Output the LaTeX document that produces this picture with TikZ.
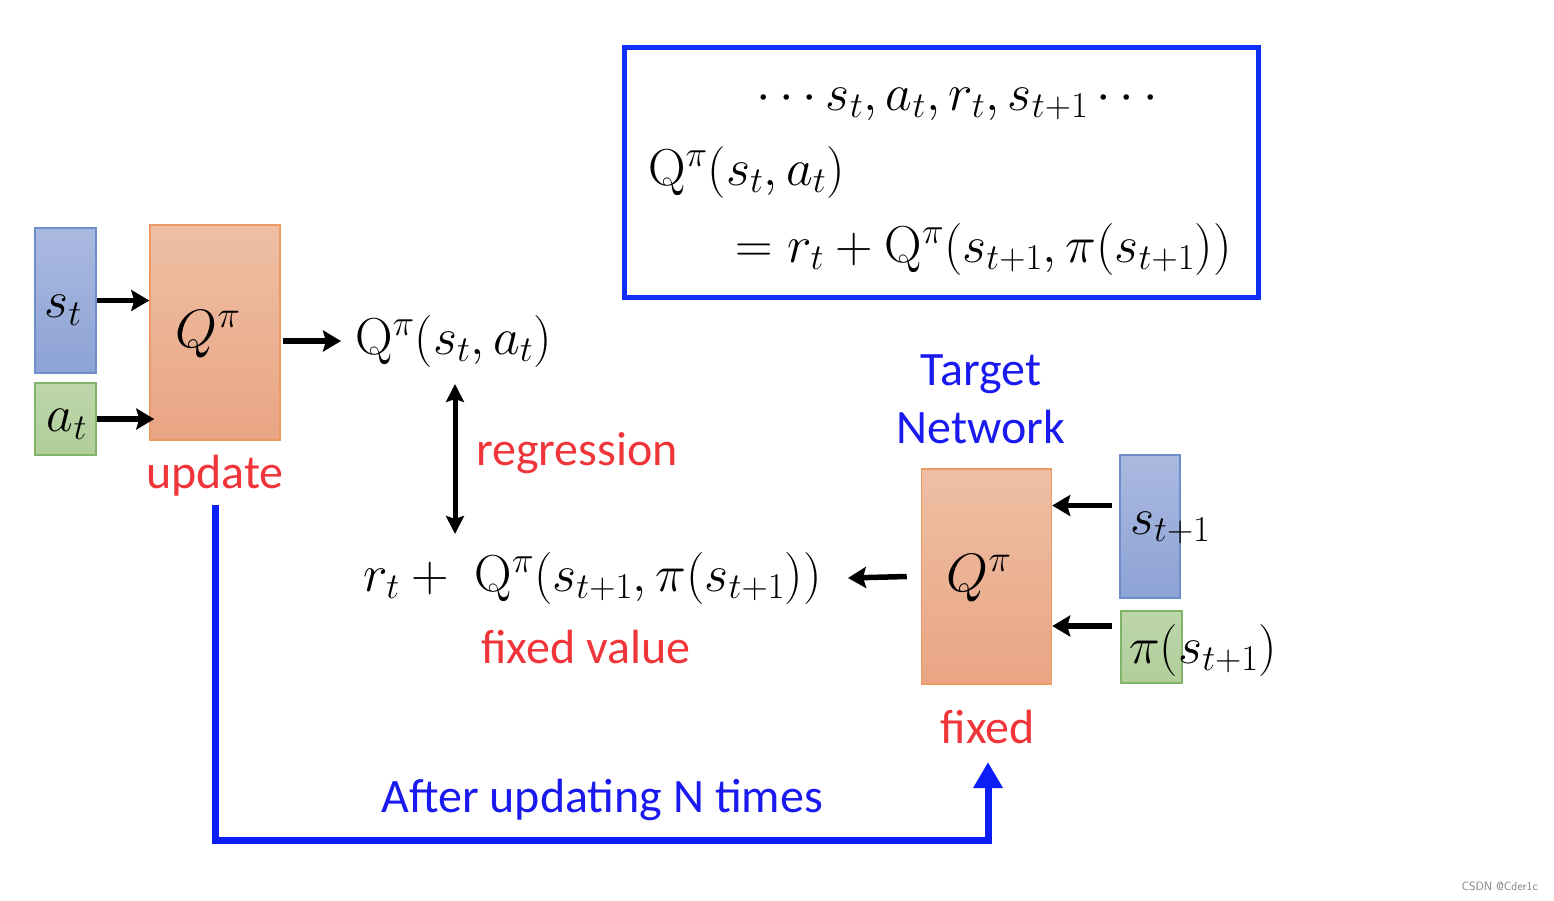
\RequirePackage{fix-cm}
\documentclass[tikz,border=0pt]{standalone}
\usepackage[no-math]{fontspec}
\setmainfont{Carlito}
\usetikzlibrary{arrows.meta}
\definecolor{bluetop}{HTML}{AAB9DF}
\definecolor{bluebot}{HTML}{8DA3D6}
\definecolor{blueedge}{HTML}{6D8DCB}
\definecolor{orgtop}{HTML}{EEBFA4}
\definecolor{orgbot}{HTML}{E9A584}
\definecolor{orgedge}{HTML}{EC9A62}
\definecolor{grntop}{HTML}{BDD6AA}
\definecolor{grnbot}{HTML}{B0CE9A}
\definecolor{grnedge}{HTML}{80B46A}
\definecolor{redtxt}{HTML}{F0353A}
\definecolor{bluetxt}{HTML}{1A1AF0}
\definecolor{bluepath}{HTML}{0A1EF5}
\definecolor{boxline}{HTML}{1030F8}
\begin{document}
\begin{tikzpicture}[x=1pt,y=-1pt,
  bluebox/.style={draw=blueedge, line width=1.5pt, top color=bluetop, bottom color=bluebot, inner sep=0pt},
  orgbox/.style={draw=orgedge, line width=1.5pt, top color=orgtop, bottom color=orgbot, inner sep=0pt, minimum width=130pt, minimum height=215pt},
  grnbox/.style={draw=grnedge, line width=1.5pt, top color=grntop, bottom color=grnbot, inner sep=0pt},
  mth/.style={inner sep=0pt, font=\fontsize{52}{60}\selectfont},
  lbl/.style={inner sep=0pt, font=\fontsize{48}{58}\selectfont},
  arr/.style={line width=5.5pt, -{Stealth[length=18pt,width=21pt,inset=3pt]}},
  dbl/.style={line width=5pt, {Stealth[length=18pt,width=18pt,inset=3pt]}-{Stealth[length=18pt,width=18pt,inset=3pt]}},
  bluearr/.style={draw=bluepath, line width=7pt, -{Triangle[length=26pt,width=28pt]}},
]
\useasboundingbox (0,0) rectangle (1554,900);
\fill[white] (0,0) rectangle (1554,900);

% top box
\node[draw=boxline, line width=5pt, minimum width=634pt, minimum height=250pt, inner sep=0pt] (eqbox) at (941,172) {};
\node[mth, anchor=base] (l1) at (957,110) {$\cdots s_t,a_t,r_t,s_{t+1}\cdots$};
\node[mth, anchor=base west] (l2) at (648,185) {$\mathrm{Q}^{\pi}(s_t,a_t)$};
\node[mth, anchor=base east] (l3) at (1232,262) {$=r_t+\mathrm{Q}^{\pi}\bigl(s_{t+1},\pi(s_{t+1})\bigr)$};

% left network
\node[bluebox, minimum width=61pt, minimum height=145pt] (st) at (65.5,300.5) {};
\node[mth] (sttxt) at (63,310) {$s_t$};
\node[grnbox, minimum width=61pt, minimum height=72pt] (at) at (65.5,419) {};
\node[mth] (attxt) at (67,424) {$a_t$};
\node[orgbox] (q1) at (215,332.5) {};
\node[mth, font=\fontsize{54}{62}\selectfont] (q1txt) at (208,334) {$Q^{\pi}$};
\node[lbl, text=redtxt] (update) at (215,476) {update};

\draw[arr] (st.east) -- (st.east -| q1.west);
\draw[arr] (at.east) -- ([xshift=5pt]at.east -| q1.west);

\node[mth, anchor=west] (qsa) at (355,341) {$\mathrm{Q}^{\pi}(s_t,a_t)$};
\draw[arr] ([xshift=2pt]q1.east |- qsa.west) -- ([xshift=-14pt]qsa.west);

% regression
\coordinate (rtop) at (455,384);
\coordinate (rbot) at (455,534);
\draw[dbl] (rtop) -- (rbot);
\node[lbl, text=redtxt, anchor=west] (regr) at (476,453) {regression};

% target expression
\node[mth, anchor=east] (target) at (822,578) {$r_t+\;\mathrm{Q}^{\pi}\bigl(s_{t+1},\pi(s_{t+1})\bigr)$};
\node[lbl, text=redtxt] (fixval) at (586,647) {fixed value};

% right network
\node[orgbox] (q2) at (986.5,576.5) {};
\node[mth, font=\fontsize{54}{62}\selectfont] (q2txt) at (979,578) {$Q^{\pi}$};
\node[bluebox, minimum width=60pt, minimum height=143pt] (s1) at (1150,526.5) {};
\node[mth, anchor=west] (s1txt) at (1130,528) {$s_{t+1}$};
\node[grnbox, minimum width=61pt, minimum height=72pt] (pi) at (1151.5,647) {};
\node[mth, anchor=west] (pitxt) at (1129,650) {$\pi(s_{t+1})$};
\node[lbl, text=bluetxt, align=center, font=\fontsize{48}{58}\selectfont] (tn) at (981,399) {Target\\Network};
\node[lbl, text=redtxt] (fixed) at (988,727) {fixed};

\coordinate (a1) at ([yshift=21pt]s1.west);
\coordinate (a2) at ([yshift=21pt,xshift=-1pt]pi.west);
\draw[arr] ([xshift=-7pt]a1) -- (a1 -| q2.east);
\draw[arr] ([xshift=-7pt]a2) -- (a2 -| q2.east);
\draw[arr] ([xshift=-14pt]q2.west) -- ([xshift=26pt]target.east);

% blue feedback path
\node[lbl, text=bluetxt] (after) at (602,800) {After updating N times};
\coordinate (bc) at (988,840);
\draw[bluearr] (215,505) |- (bc) -- ([yshift=-18pt]fixed.south);

\node[inner sep=0pt, text=gray, font=\sffamily\fontsize{12}{14}\selectfont, anchor=east] (wm) at (1538,886) {CSDN @Cder1c};
\end{tikzpicture}
\end{document}
